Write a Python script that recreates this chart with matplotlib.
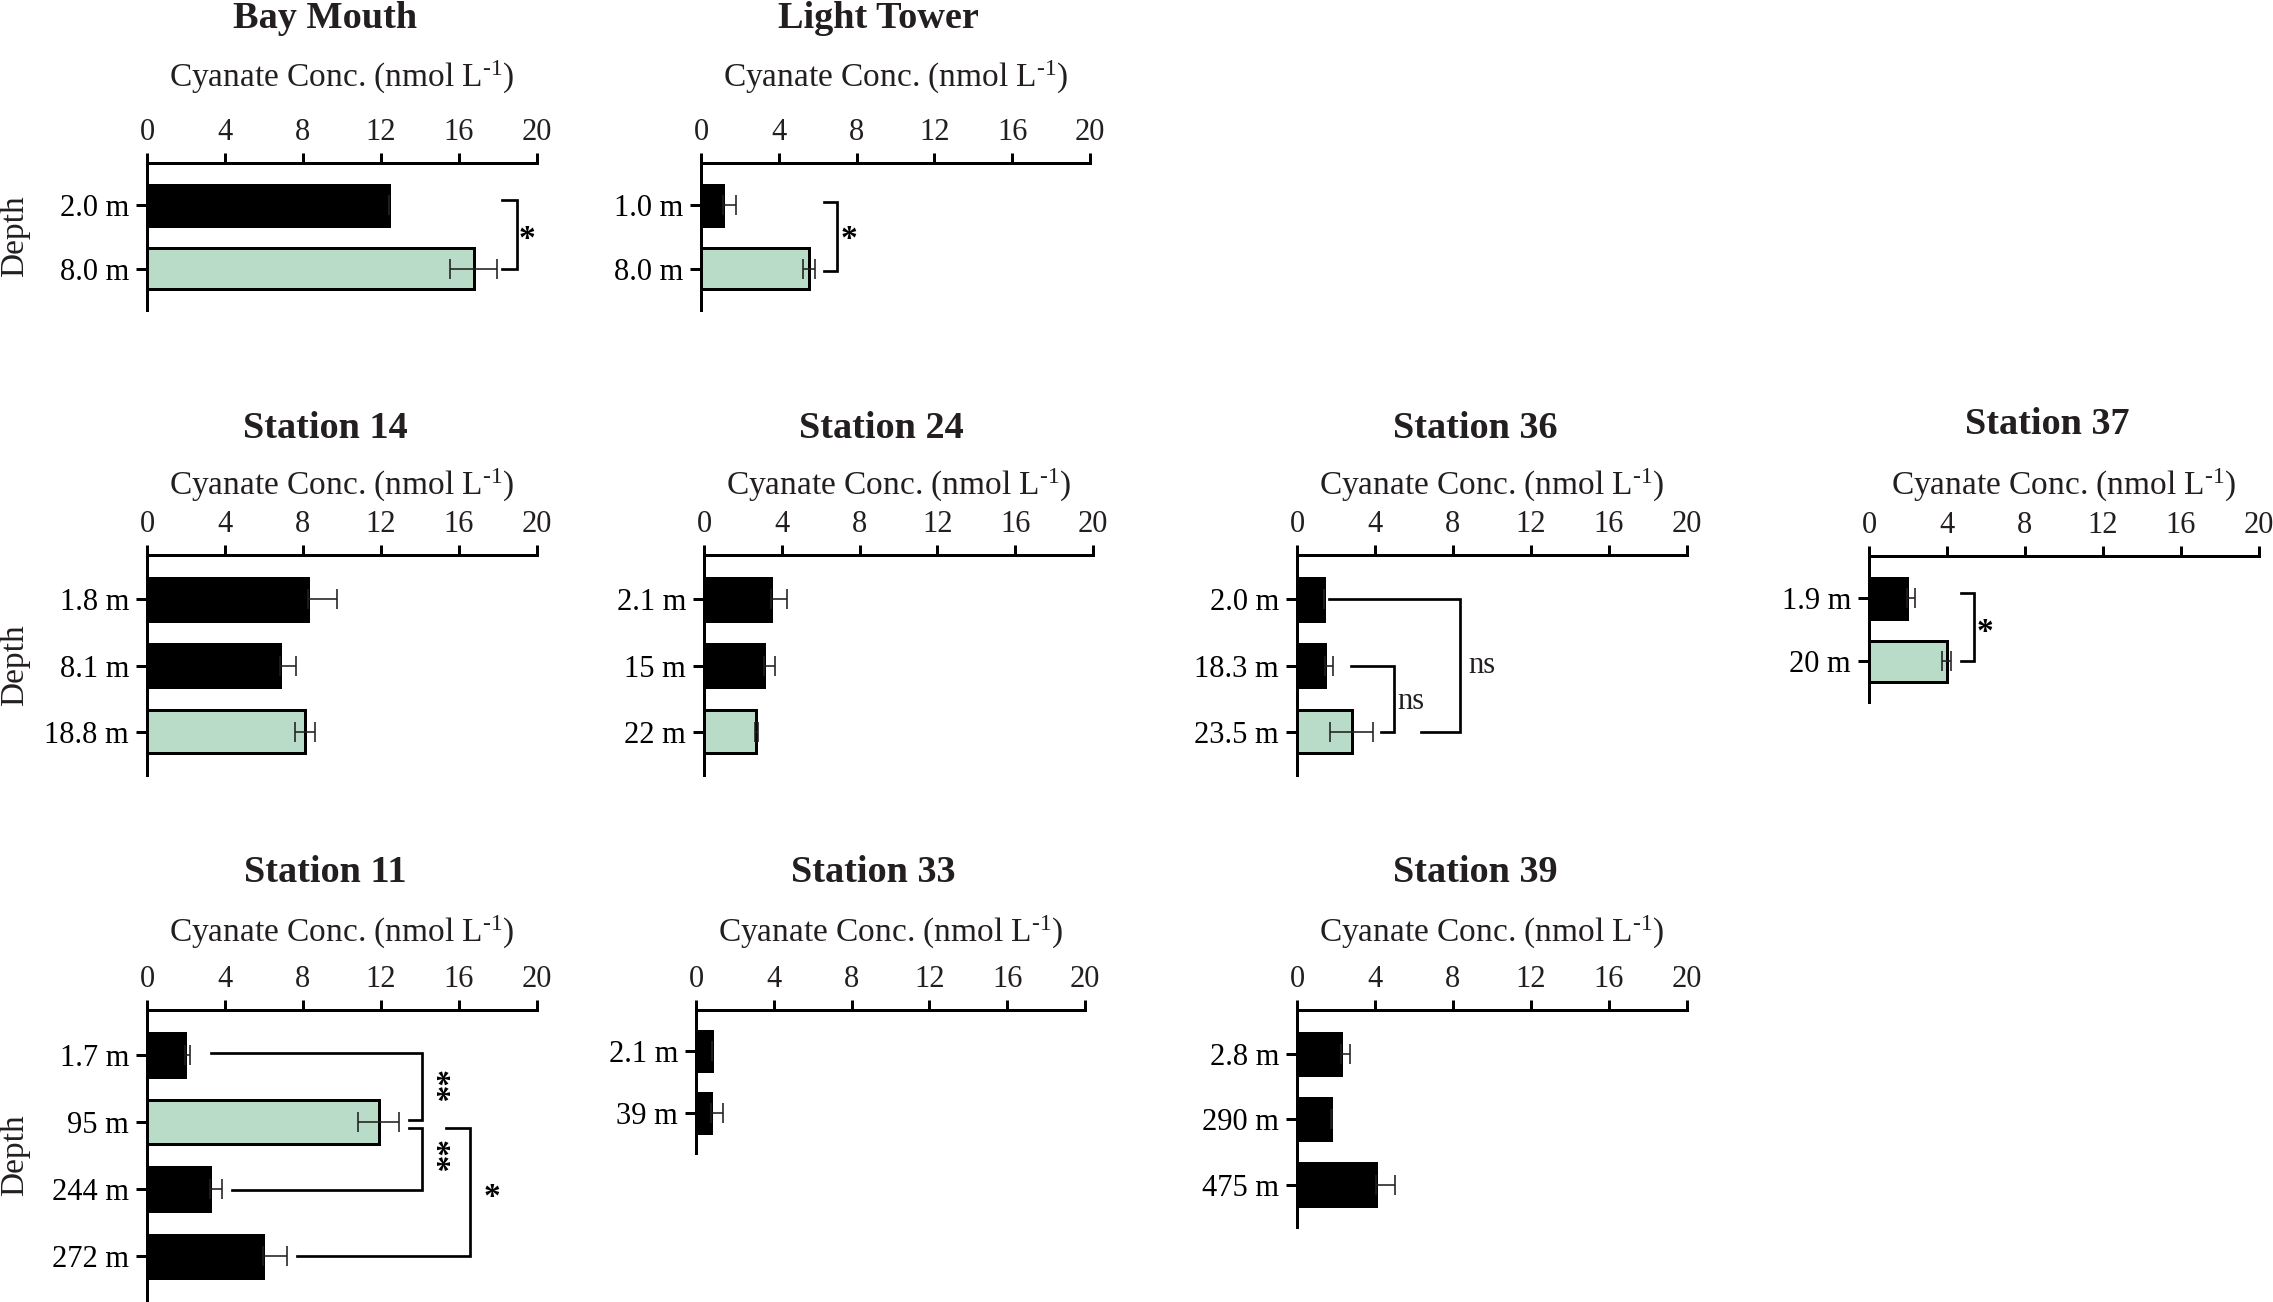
import matplotlib.pyplot as plt
import numpy as np

plt.rcParams['font.family'] = ['Liberation Serif', 'DejaVu Serif']
plt.rcParams['mathtext.fontset'] = 'custom'
plt.rcParams['mathtext.rm'] = 'Liberation Serif'
plt.rcParams['mathtext.default'] = 'regular'

W, H = 2273, 1302
DPI = 100
PT = 72 / DPI  # points per pixel

GREEN = '#b9dcc8'
INK = '#231f20'

# --- Data ---
bay_depths = ['2.0 m', '8.0 m']
bay_conc = [12.4, 16.75]
bay_err = [0.0, 1.2]

light_depths = ['1.0 m', '8.0 m']
light_conc = [1.15, 5.55]
light_err = [0.65, 0.3]

st14_depths = ['1.8 m', '8.1 m', '18.8 m']
st14_conc = [8.27, 6.8, 8.11]
st14_err = [1.45, 0.82, 0.5]

st24_depths = ['2.1 m', '15 m', '22 m']
st24_conc = [3.44, 3.1, 2.69]
st24_err = [0.84, 0.55, 0.08]

st36_depths = ['2.0 m', '18.3 m', '23.5 m']
st36_conc = [1.4, 1.46, 2.8]
st36_err = [0.0, 0.41, 1.1]

st37_depths = ['1.9 m', '20 m']
st37_conc = [1.95, 3.98]
st37_err = [0.43, 0.24]

st11_depths = ['1.7 m', '95 m', '244 m', '272 m']
st11_conc = [1.93, 11.89, 3.24, 5.95]
st11_err = [0.27, 1.05, 0.59, 1.22]

st33_depths = ['2.1 m', '39 m']
st33_conc = [0.83, 0.77]
st33_err = [0.0, 0.6]

st39_depths = ['2.8 m', '290 m', '475 m']
st39_conc = [2.25, 1.74, 4.05]
st39_err = [0.48, 0.08, 0.95]

# significance brackets: (y_top, y_bottom, x_start_top, x_start_bottom, x_vertical)
bay_brackets = [(-0.08, 1.0, 18.2, 18.2, 18.96)]
bay_marks = [('*', 19.5, 0.42, 0)]
light_brackets = [(-0.06, 1.04, 6.3, 6.3, 7.0)]
light_marks = [('*', 7.6, 0.42, 0)]
st36_brackets = [(0, 2, 1.62, 6.38, 8.36), (1, 2, 2.75, 4.3, 4.98)]
st36_marks = [('ns', 9.5, 1.0, 0), ('ns', 5.85, 1.54, 0)]
st37_brackets = [(-0.09, 1.0, 4.73, 4.73, 5.37)]
st37_marks = [('*', 5.97, 0.42, 0)]
st11_brackets = [(-0.03, 0.965, 3.28, 13.42, 14.09),
                 (1.085, 2.015, 13.42, 4.38, 14.09),
                 (1.085, 2.995, 15.32, 7.68, 16.56)]
st11_marks = [('**', 14.7, 0.48, 270), ('**', 14.7, 1.52, 270), ('*', 17.68, 2.01, 0)]

XTICKS = [0, 4, 8, 12, 16, 20]
LABEL = r'Cyanate Conc. (nmol L$^{\text{-}1}$)'

# title, depths, conc, err, green bar, brackets, marks,
# layout in pixels: x0, x20, top, bottom, title_y, label_y, depth label
panels = [
    ('Bay Mouth', bay_depths, bay_conc, bay_err, 1, bay_brackets, bay_marks,
     (147, 537, 163, 310, 18, 77, True)),
    ('Light Tower', light_depths, light_conc, light_err, 1, light_brackets, light_marks,
     (701, 1090, 163, 310, 18, 77, False)),
    ('Station 14', st14_depths, st14_conc, st14_err, 2, [], [],
     (147, 537, 555, 775, 428, 485, True)),
    ('Station 24', st24_depths, st24_conc, st24_err, 2, [], [],
     (704, 1093, 555, 775, 428, 485, False)),
    ('Station 36', st36_depths, st36_conc, st36_err, 2, st36_brackets, st36_marks,
     (1297, 1687, 555, 775, 428, 485, False)),
    ('Station 37', st37_depths, st37_conc, st37_err, 1, st37_brackets, st37_marks,
     (1869, 2259, 556, 702, 425, 485, False)),
    ('Station 11', st11_depths, st11_conc, st11_err, 1, st11_brackets, st11_marks,
     (147, 537, 1010, 1300, 872, 932, True)),
    ('Station 33', st33_depths, st33_conc, st33_err, None, [], [],
     (696, 1085, 1010, 1153, 872, 932, False)),
    ('Station 39', st39_depths, st39_conc, st39_err, None, [], [],
     (1297, 1687, 1010, 1227, 872, 932, False)),
]

fig = plt.figure(figsize=(W / DPI, H / DPI), dpi=DPI)


def draw_panel(title, depths, conc, err, green, brackets, marks, layout):
    x0, x20, top, bottom, title_y, label_y, depth = layout
    ax = fig.add_axes([x0 / W, 1 - bottom / H, (x20 - x0) / W, (bottom - top) / H])
    n = len(depths)
    y = np.arange(n)
    colors = [GREEN if i == green else 'black' for i in range(n)]
    ax.barh(y, conc, height=0.65, color=colors, edgecolor='black',
            linewidth=3 * PT, zorder=2)
    # lower whisker only visible on the light bars
    lower = [e if i == green else 0 for i, e in enumerate(err)]
    ax.errorbar(conc, y, xerr=[lower, err], fmt='none', ecolor=INK, elinewidth=1.6 * PT,
                capsize=10 * PT, capthick=1.6 * PT, zorder=3)
    ax.set_xlim(0, 20)
    ax.set_ylim(n - 1 + 0.65, -0.67)
    ax.set_xticks(XTICKS)
    ax.set_yticks(y)
    ax.set_yticklabels(depths)
    ax.xaxis.tick_top()
    for s in ['right', 'bottom']:
        ax.spines[s].set_visible(False)
    for s in ['top', 'left']:
        ax.spines[s].set_linewidth(3 * PT)
    ax.tick_params(axis='x', length=10 * PT, width=3 * PT, labelsize=22, pad=4, colors='black',
                   labelcolor=INK)
    ax.tick_params(axis='y', length=11 * PT, width=3 * PT, labelsize=22, pad=5, colors='black',
                   labelcolor='black')

    for yt, yb, xs_t, xs_b, xv in brackets:
        ax.plot([xs_t, xv, xv, xs_b], [yt, yt, yb, yb], color='black',
                linewidth=2.7 * PT, clip_on=False, zorder=4, solid_joinstyle='miter')
    for txt, tx, ty, rot in marks:
        if txt.startswith('*'):
            ax.text(tx, ty + (0.12 if rot == 0 else 0), txt, ha='center', va='center',
                    fontsize=24, fontweight='bold', rotation=rot, color='black')
        else:
            ax.text(tx, ty, txt, ha='center', va='center', fontsize=22, color=INK)

    cx = (x0 + x20) / 2
    fig.text((cx - 17) / W, 1 - title_y / H, title, ha='center', va='center',
             fontsize=27.5, fontweight='bold', color=INK)
    fig.text(cx / W, 1 - label_y / H, LABEL, ha='center', va='center',
             fontsize=24, color=INK)
    if depth:
        fig.text(15 / W, 1 - (top + bottom) / 2 / H, 'Depth', rotation=90,
                 ha='center', va='center', fontsize=24, color=INK)


for p in panels:
    draw_panel(*p)

fig.savefig('out.png', dpi=DPI)
